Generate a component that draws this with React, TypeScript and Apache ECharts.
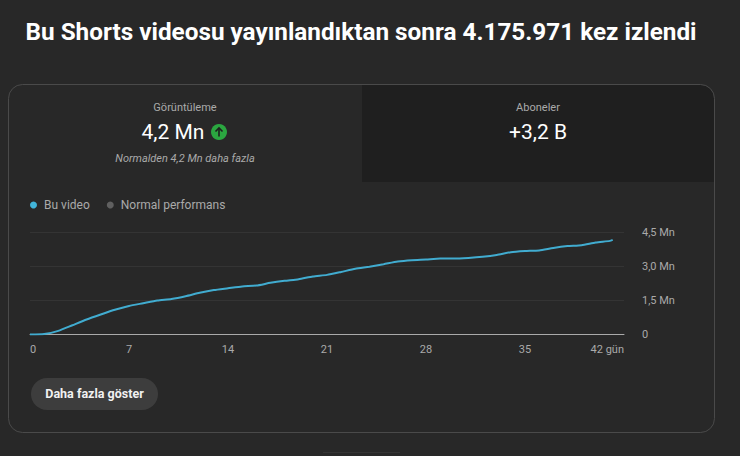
import React, { useEffect, useRef } from "react";
import * as echarts from "echarts";

const days = [0, 1, 2, 3, 4, 5, 6, 7, 8, 9, 10, 11, 12, 13, 14, 15, 16, 17, 18, 19, 20, 21, 22, 23, 24, 25, 26, 27, 28, 29, 30, 31, 32, 33, 34, 35, 36, 37, 38, 39, 40, 41, 41.2];
const views = [0, 0.02, 0.16, 0.41, 0.66, 0.88, 1.09, 1.26, 1.38, 1.5, 1.57, 1.69, 1.84, 1.96, 2.04, 2.12, 2.16, 2.28, 2.37, 2.44, 2.56, 2.63, 2.76, 2.9, 2.99, 3.1, 3.22, 3.28, 3.31, 3.35, 3.35, 3.38, 3.43, 3.51, 3.63, 3.68, 3.71, 3.82, 3.9, 3.94, 4.06, 4.13, 4.176];
const seriesNames = ["Bu video", "Normal performans"];
const xTicks = [0, 7, 14, 21, 28, 35, 42];
const title = "Bu Shorts videosu yayınlandıktan sonra 4.175.971 kez izlendi";
const FONT = "Roboto";

export default function App() {
  const ref = useRef<HTMLDivElement>(null);
  useEffect(() => {
    document.body.style.margin = "0";
    const chart = echarts.init(ref.current!, null, { renderer: "svg" });
    const label = (x: number, y: number, text: string, fontSize: number, fill: string, extra: any = {}) => ({
      type: "text",
      x,
      y,
      silent: true,
      style: { text, fontSize, fill, fontFamily: FONT, align: "center", verticalAlign: "middle", ...extra },
    });
    chart.setOption({
      animation: false,
      backgroundColor: "#282828",
      textStyle: { fontFamily: FONT },
      legend: {
        left: 26,
        top: 199,
        icon: "circle",
        itemWidth: 7,
        itemHeight: 7,
        itemGap: 17,
        selectedMode: false,
        padding: [0, 4],
        textStyle: { color: "#aaaaaa", fontSize: 12, fontFamily: FONT, padding: [0, 0, 0, 2] },
        data: seriesNames,
      },
      grid: { left: 30, right: 116, top: 232.5, bottom: 121.5 },
      xAxis: {
        type: "value",
        min: 0,
        max: 42,
        interval: 7,
        axisLine: { show: true, lineStyle: { color: "#aaaaaa", width: 1 } },
        axisTick: { show: false },
        splitLine: { show: false },
        axisLabel: {
          color: "#aaaaaa",
          fontSize: 11,
          fontFamily: FONT,
          margin: 9,
          alignMinLabel: "left",
          alignMaxLabel: "right",
          customValues: xTicks,
          formatter: (v: number) => (v === 42 ? `${v} gün` : `${v}`),
        },
      },
      yAxis: {
        type: "value",
        position: "right",
        min: 0,
        max: 4.5,
        interval: 1.5,
        axisLine: { show: false },
        axisTick: { show: false },
        splitLine: { lineStyle: { color: "#343434", width: 1 } },
        axisLabel: {
          color: "#aaaaaa",
          fontSize: 11,
          fontFamily: FONT,
          margin: 18,
          formatter: (v: number) => (v === 0 ? "0" : `${v.toFixed(1).replace(".", ",")} Mn`),
        },
      },
      series: [
        {
          name: seriesNames[0],
          type: "line",
          data: days.map((d, i) => [d, views[i]]),
          showSymbol: false,
          smooth: 0.2,
          itemStyle: { color: "#41b4d9" },
          lineStyle: { color: "#41acd0", width: 2 },
          z: 5,
        },
        {
          name: seriesNames[1],
          type: "line",
          data: [],
          showSymbol: false,
          itemStyle: { color: "#606060" },
          lineStyle: { color: "#606060", width: 2 },
        },
      ],
      graphic: [
        { type: "rect", z: -1, silent: true, shape: { x: 362, y: 85, width: 352, height: 97, r: [0, 14, 0, 0] }, style: { fill: "#1f1f1f" } },
        { type: "rect", z: -1, silent: true, shape: { x: 8.5, y: 84.5, width: 706, height: 348, r: 14 }, style: { fill: "none", stroke: "#4a4a4a", lineWidth: 1 } },
        label(361, 31, title, 24.3, "#ffffff", { fontWeight: 700 }),
        label(185, 107, "Görüntüleme", 11, "#aaaaaa"),
        label(173, 132, "4,2 Mn", 21, "#ffffff"),
        { type: "circle", silent: true, shape: { cx: 219, cy: 132, r: 8 }, style: { fill: "#2ba640" } },
        { type: "line", silent: true, shape: { x1: 219, y1: 136.5, x2: 219, y2: 128 }, style: { stroke: "#1f1f1f", lineWidth: 1.6 } },
        { type: "polyline", silent: true, shape: { points: [[215.5, 131.5], [219, 128], [222.5, 131.5]] }, style: { fill: "none", stroke: "#1f1f1f", lineWidth: 1.6 } },
        label(185, 158, "Normalden 4,2 Mn daha fazla", 11, "#aaaaaa", { fontStyle: "italic" }),
        label(538, 107, "Aboneler", 11, "#aaaaaa"),
        label(538, 132, "+3,2 B", 21, "#ffffff"),
        { type: "rect", silent: true, shape: { x: 31, y: 378, width: 127, height: 32, r: 16 }, style: { fill: "#3d3d3d" } },
        label(94.5, 393.5, "Daha fazla göster", 12.5, "#f1f1f1", { fontWeight: 700 }),
        { type: "line", silent: true, shape: { x1: 323, y1: 452.5, x2: 400, y2: 452.5 }, style: { stroke: "#343434", lineWidth: 1 } },
      ],
    });
    return () => chart.dispose();
  }, []);
  return <div ref={ref} style={{ width: 740, height: 456 }} />;
}
